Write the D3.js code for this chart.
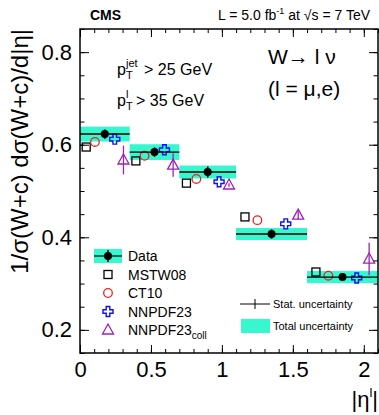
<!DOCTYPE html>
<html>
<head>
<meta charset="utf-8">
<script src="https://cdn.jsdelivr.net/npm/d3@7"></script>
<style>
  body { margin: 0; background: #fff; }
  text { font-family: "Liberation Sans", Arial, sans-serif; }
</style>
</head>
<body>
<svg id="chart" width="379" height="415"></svg>
<script>
// bins in |eta| and measured values
const binEdges = [0, 0.35, 0.7, 1.1, 1.6, 2.1];
const dataValues = [0.623, 0.584, 0.541, 0.407, 0.314];
const statErrors = [0.010, 0.010, 0.012, 0.010, 0.008];
const totalErrors = [0.016, 0.017, 0.014, 0.013, 0.013];

// predictions
const mstw08 = [0.595, 0.565, 0.517, 0.444, 0.325];
const ct10 = [0.606, 0.576, 0.526, 0.437, 0.317];
const nnpdf23 = [0.612, 0.589, 0.520, 0.429, 0.312];
const nnpdf23coll = [0.567, 0.556, 0.513, 0.448, 0.353];
const nnpdf23collErr = [0.031, 0.025, 0.004, 0.010, 0.035];

const xTicks = [0, 0.5, 1, 1.5, 2];
const yTicks = [0.2, 0.4, 0.6, 0.8];
const legendLabels = ['Data', 'MSTW08', 'CT10', 'NNPDF23', 'NNPDF23'];

const cyan = '#36f7cd';
const purple = '#a020b8';

const svg = d3.select('#chart');
const x = d3.scaleLinear().domain([0, 2.1]).range([80, 378]);
const y = d3.scaleLinear().domain([0.15, 0.85]).range([353, 29]);

let bins = dataValues.map((v, i) => ({
  lo: binEdges[i], hi: binEdges[i + 1], v: v,
  stat: statErrors[i], tot: totalErrors[i]
}));
let at = (b, f) => (b.lo + b.hi) / 2 + f * (b.hi - b.lo);

// total uncertainty bands
svg.append('g').selectAll('rect')
  .data(bins).enter().append('rect')
    .attr('x', d => x(d.lo))
    .attr('width', d => x(d.hi) - x(d.lo))
    .attr('y', d => y(d.v + d.tot))
    .attr('height', d => y(d.v - d.tot) - y(d.v + d.tot))
    .attr('fill', cyan);

// markers
function square(g, cx, cy) {
  g.append('rect').attr('x', cx - 4).attr('y', cy - 4).attr('width', 8).attr('height', 8)
    .attr('fill', 'none').attr('stroke', '#000').attr('stroke-width', 1.3);
}
function circle(g, cx, cy) {
  g.append('circle').attr('cx', cx).attr('cy', cy).attr('r', 4.3)
    .attr('fill', 'none').attr('stroke', '#f02020').attr('stroke-width', 1.3);
}
function cross(g, cx, cy) {
  let a = 1.8, b = 5;
  let p = [[-a,-b],[a,-b],[a,-a],[b,-a],[b,a],[a,a],[a,b],[-a,b],[-a,a],[-b,a],[-b,-a],[-a,-a]];
  g.append('path').attr('d', 'M' + p.map(q => (cx + q[0]) + ',' + (cy + q[1])).join('L') + 'Z')
    .attr('fill', 'none').attr('stroke', '#1010f0').attr('stroke-width', 1.4);
}
function triangle(g, cx, cy) {
  g.append('path').attr('d', d3.line()([[cx, cy - 6], [cx + 5.5, cy + 4], [cx - 5.5, cy + 4]]) + 'Z')
    .attr('fill', 'none').attr('stroke', purple).attr('stroke-width', 1.3);
}

let mc = svg.append('g');
bins.forEach((b, i) => {
  square(mc, x(at(b, -0.375)), y(mstw08[i]));
  circle(mc, x(at(b, -0.2)), y(ct10[i]));
  cross(mc, x(at(b, 0.2)), y(nnpdf23[i]));
  let tx = x(at(b, 0.375));
  mc.append('line').attr('x1', tx).attr('x2', tx)
    .attr('y1', y(nnpdf23coll[i] + nnpdf23collErr[i]))
    .attr('y2', y(nnpdf23coll[i] - nnpdf23collErr[i]))
    .attr('stroke', purple).attr('stroke-width', 1.3);
  triangle(mc, tx, y(nnpdf23coll[i]));
});

// data: horizontal line over bin, stat bar, dot
let dg = svg.append('g').selectAll('g').data(bins).enter().append('g');
dg.append('line')
  .attr('x1', d => x(d.lo)).attr('x2', d => x(d.hi))
  .attr('y1', d => y(d.v)).attr('y2', d => y(d.v))
  .attr('stroke', '#000').attr('stroke-width', 1.4);
dg.append('line')
  .attr('x1', d => x(at(d, 0))).attr('x2', d => x(at(d, 0)))
  .attr('y1', d => y(d.v + d.stat)).attr('y2', d => y(d.v - d.stat))
  .attr('stroke', '#000').attr('stroke-width', 1.6);
dg.append('circle')
  .attr('cx', d => x(at(d, 0))).attr('cy', d => y(d.v)).attr('r', 4)
  .attr('fill', '#000');

// frame and ticks
function styleAxis(g, labels) {
  g.select('.domain').remove();
  g.selectAll('line').attr('stroke', '#000').attr('stroke-width', 1);
  g.selectAll('text').attr('font-size', 22).attr('fill', '#000')
    .style('font-family', '"Liberation Sans", Arial, sans-serif');
  if (!labels) g.selectAll('text').remove();
}
let xMinor = d3.range(0, 2.15, 0.1).map(v => +v.toFixed(2)).filter(v => v <= 2.1);
let yMinor = d3.range(0.15, 0.86, 0.05).map(v => +v.toFixed(2));

svg.append('g').attr('transform', 'translate(0,353)')
  .call(d3.axisBottom(x).tickValues(xTicks).tickSize(-8).tickPadding(8).tickFormat(d3.format('')))
  .call(g => styleAxis(g, true));
svg.append('g').attr('transform', 'translate(0,353)')
  .call(d3.axisBottom(x).tickValues(xMinor).tickSize(-4)).call(g => styleAxis(g, false));
svg.append('g').attr('transform', 'translate(0,29)')
  .call(d3.axisTop(x).tickValues(xTicks).tickSize(-8)).call(g => styleAxis(g, false));
svg.append('g').attr('transform', 'translate(0,29)')
  .call(d3.axisTop(x).tickValues(xMinor).tickSize(-4)).call(g => styleAxis(g, false));

svg.append('g').attr('transform', 'translate(80,0)')
  .call(d3.axisLeft(y).tickValues(yTicks).tickSize(-9).tickPadding(8).tickFormat(d3.format('')))
  .call(g => styleAxis(g, true));
svg.append('g').attr('transform', 'translate(80,0)')
  .call(d3.axisLeft(y).tickValues(yMinor).tickSize(-4.5)).call(g => styleAxis(g, false));
svg.append('g').attr('transform', 'translate(378,0)')
  .call(d3.axisRight(y).tickValues(yTicks).tickSize(-9)).call(g => styleAxis(g, false));
svg.append('g').attr('transform', 'translate(378,0)')
  .call(d3.axisRight(y).tickValues(yMinor).tickSize(-4.5)).call(g => styleAxis(g, false));

svg.append('rect').attr('x', 80).attr('y', 29).attr('width', 298).attr('height', 324)
  .attr('fill', 'none').attr('stroke', '#000').attr('stroke-width', 1.5);

// axis titles
let xt = svg.append('text').attr('x', 378).attr('y', 407).attr('text-anchor', 'end').attr('font-size', 22);
xt.append('tspan').text('|η');
xt.append('tspan').attr('font-size', 13).attr('dy', -10).text('l');
xt.append('tspan').attr('dy', 10).text('|');
svg.append('text')
  .attr('transform', 'translate(28,29) rotate(-90)')
  .attr('text-anchor', 'end').attr('font-size', 24)
  .text('1/σ(W+c)  dσ(W+c)/d|η|');

// header
svg.append('text').attr('x', 90).attr('y', 20).attr('font-size', 14).attr('font-weight', 'bold').text('CMS');
let hdr = svg.append('text').attr('x', 370).attr('y', 20).attr('font-size', 14).attr('text-anchor', 'end');
hdr.append('tspan').text('L = 5.0 fb');
hdr.append('tspan').attr('font-size', 9).attr('dy', -6).text('-1');
hdr.append('tspan').attr('dy', 6).text(' at  √s = 7 TeV');

// inset text
svg.append('text').attr('x', 268).attr('y', 64).attr('font-size', 21).text('W→ l ν');
svg.append('text').attr('x', 268).attr('y', 96).attr('font-size', 21).text('(l = μ,e)');
function ptLine(yy, sup, txt) {
  let x0 = 117, xs = x0 + 9;
  svg.append('text').attr('x', x0).attr('y', yy).attr('font-size', 16).text('p');
  svg.append('text').attr('x', xs).attr('y', yy - 8).attr('font-size', 11).text(sup);
  svg.append('text').attr('x', xs).attr('y', yy + 4).attr('font-size', 11).text('T');
  svg.append('text').attr('x', xs + (sup.length > 1 ? 18 : 10)).attr('y', yy).attr('font-size', 16).text(txt);
}
ptLine(75, 'jet', '> 25 GeV');
ptLine(106, 'l', '> 35 GeV');

// legend
let legY = d3.range(5).map(i => 256 + i * 18.5);
let lg = svg.append('g');
lg.append('rect').attr('x', 94).attr('y', legY[0] - 7).attr('width', 28).attr('height', 14).attr('fill', cyan);
lg.append('line').attr('x1', 94).attr('x2', 122).attr('y1', legY[0]).attr('y2', legY[0]).attr('stroke', '#000').attr('stroke-width', 1.2);
lg.append('line').attr('x1', 108).attr('x2', 108).attr('y1', legY[0] - 6).attr('y2', legY[0] + 6).attr('stroke', '#000').attr('stroke-width', 1.4);
lg.append('circle').attr('cx', 108).attr('cy', legY[0]).attr('r', 4).attr('fill', '#000');
square(lg, 108, legY[1]);
circle(lg, 108, legY[2]);
cross(lg, 108, legY[3]);
triangle(lg, 108, legY[4]);
legendLabels.forEach((l, i) => {
  let t = lg.append('text').attr('x', 128).attr('y', legY[i] + 5).attr('font-size', 14).text(l);
  if (i === 4) t.append('tspan').attr('font-size', 10).attr('dy', 4).text('coll');
});

// uncertainty legend
lg.append('line').attr('x1', 240).attr('x2', 270).attr('y1', 304).attr('y2', 304).attr('stroke', '#000').attr('stroke-width', 1);
lg.append('line').attr('x1', 255).attr('x2', 255).attr('y1', 299).attr('y2', 309).attr('stroke', '#000').attr('stroke-width', 1);
lg.append('text').attr('x', 273).attr('y', 308).attr('font-size', 11).text('Stat. uncertainty');
lg.append('rect').attr('x', 241).attr('y', 319).attr('width', 29).attr('height', 14).attr('fill', cyan);
lg.append('text').attr('x', 273).attr('y', 330).attr('font-size', 11).text('Total uncertainty');
</script>
</body>
</html>
